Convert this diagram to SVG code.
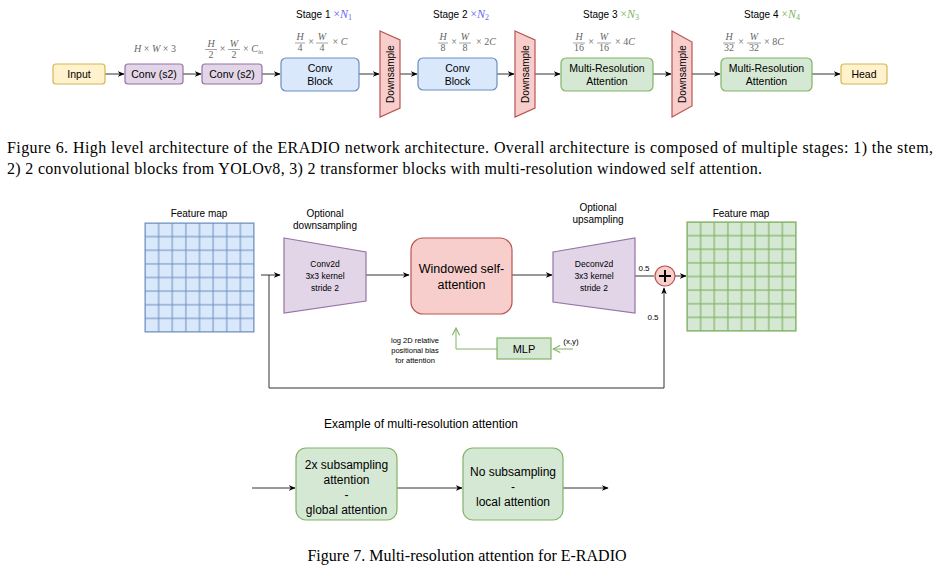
<svg xmlns="http://www.w3.org/2000/svg" width="936" height="578" viewBox="0 0 936 578">
<defs>
<style>
.t{font-family:"Liberation Sans",Arial,sans-serif;fill:#000;text-anchor:middle}
.m{font-family:"Liberation Serif","Times New Roman",serif;fill:#666;font-size:10px;text-anchor:middle}
.mi{font-style:italic}
.cap{font-family:"Liberation Serif","Times New Roman",serif;font-size:16px;fill:#000}
.yel{fill:#fff2cc;stroke:#d6b656;stroke-width:1.2}
.pur{fill:#e1d5e7;stroke:#9673a6;stroke-width:1.2}
.blu{fill:#dae8fc;stroke:#6c8ebf;stroke-width:1.2}
.grn{fill:#d5e8d4;stroke:#82b366;stroke-width:1.2}
.red{fill:#f8cecc;stroke:#b85450;stroke-width:1.2}
.ln{fill:none;stroke:#333;stroke-width:1}
.gln{fill:none;stroke:#82b366;stroke-width:1}
.fb{stroke:#666;stroke-width:0.6}
.sx{font-family:"Liberation Serif","Times New Roman",serif;font-size:12px}
</style>
<marker id="a" viewBox="0 0 10 10" refX="9" refY="5" markerWidth="7" markerHeight="7" markerUnits="userSpaceOnUse" orient="auto"><path d="M0,1 L10,5 L0,9 L3,5 Z" fill="#000"/></marker>
<marker id="ga" viewBox="0 0 10 10" refX="9" refY="5" markerWidth="9" markerHeight="9" markerUnits="userSpaceOnUse" orient="auto"><path d="M1,1 L9,5 L1,9" fill="none" stroke="#82b366" stroke-width="1.2"/></marker>
<pattern id="gb" x="145" y="223" width="13.625" height="13.625" patternUnits="userSpaceOnUse"><rect width="13.625" height="13.625" fill="#dae8fc" stroke="#6c8ebf" stroke-width="1"/></pattern>
<pattern id="gg" x="687" y="222" width="13.625" height="13.625" patternUnits="userSpaceOnUse"><rect width="13.625" height="13.625" fill="#d5e8d4" stroke="#82b366" stroke-width="1.2"/></pattern>
</defs>

<!-- Figure 6 -->
<g id="connectors-top">
<path class="ln" d="M105,74 H124" marker-end="url(#a)"/>
<path class="ln" d="M183,74 H201" marker-end="url(#a)"/>
<path class="ln" d="M262,74 H280" marker-end="url(#a)"/>
<path class="ln" d="M359,74 H379" marker-end="url(#a)"/>
<path class="ln" d="M400,74 H417" marker-end="url(#a)"/>
<path class="ln" d="M497,74 H514" marker-end="url(#a)"/>
<path class="ln" d="M535,74 H560" marker-end="url(#a)"/>
<path class="ln" d="M653,74 H671" marker-end="url(#a)"/>
<path class="ln" d="M692,74 H720" marker-end="url(#a)"/>
<path class="ln" d="M812,74 H840" marker-end="url(#a)"/>
</g>

<g id="input"><rect class="yel" x="53" y="64" width="52" height="20" rx="3"/><text class="t" x="79" y="78" font-size="10.5">Input</text></g>
<g id="conv1"><rect class="pur" x="125" y="64" width="58" height="20" rx="3"/><text class="t" x="154" y="78" font-size="10.5">Conv (s2)</text></g>
<g id="conv2"><rect class="pur" x="202" y="64" width="60" height="20" rx="3"/><text class="t" x="232" y="78" font-size="10.5">Conv (s2)</text></g>
<g id="convblock1"><rect class="blu" x="281" y="58" width="78" height="33" rx="5"/><text class="t" x="320" y="72" font-size="10.5">Conv</text><text class="t" x="320" y="85" font-size="10.5">Block</text></g>
<g id="ds1"><path class="red" d="M380,31 L400,40 L400,108 L380,117 Z"/><text class="t" font-size="10" transform="translate(393.5,74) rotate(-90)">Downsample</text></g>
<g id="convblock2"><rect class="blu" x="418" y="58" width="79" height="32" rx="5"/><text class="t" x="457.5" y="72" font-size="10.5">Conv</text><text class="t" x="457.5" y="85" font-size="10.5">Block</text></g>
<g id="ds2"><path class="red" d="M515,31 L535,40 L535,108 L515,117 Z"/><text class="t" font-size="10" transform="translate(528.5,74) rotate(-90)">Downsample</text></g>
<g id="mra1"><rect class="grn" x="561" y="58" width="92" height="33" rx="5"/><text class="t" x="607" y="72" font-size="10.5">Multi-Resolution</text><text class="t" x="607" y="85" font-size="10.5">Attention</text></g>
<g id="ds3"><path class="red" d="M672,31 L692,42 L692,106 L672,117 Z"/><text class="t" font-size="10" transform="translate(685.5,74) rotate(-90)">Downsample</text></g>
<g id="mra2"><rect class="grn" x="721" y="58" width="91" height="33" rx="5"/><text class="t" x="766.5" y="72" font-size="10.5">Multi-Resolution</text><text class="t" x="766.5" y="85" font-size="10.5">Attention</text></g>
<g id="head"><rect class="yel" x="841" y="64" width="46" height="20" rx="3"/><text class="t" x="864" y="78" font-size="10.5">Head</text></g>

<g id="stage-labels" font-size="10">
<text class="t" x="324" y="18">Stage 1 <tspan class="sx" fill="#6666ee">×<tspan font-style="italic">N</tspan><tspan font-size="8" dy="2">1</tspan></tspan></text>
<text class="t" x="461" y="18">Stage 2 <tspan class="sx" fill="#6666ee">×<tspan font-style="italic">N</tspan><tspan font-size="8" dy="2">2</tspan></tspan></text>
<text class="t" x="611" y="18">Stage 3 <tspan class="sx" fill="#82b366">×<tspan font-style="italic">N</tspan><tspan font-size="8" dy="2">3</tspan></tspan></text>
<text class="t" x="772" y="18">Stage 4 <tspan class="sx" fill="#82b366">×<tspan font-style="italic">N</tspan><tspan font-size="8" dy="2">4</tspan></tspan></text>
</g>

<g id="shape-labels">
<text class="m" x="155" y="52"><tspan class="mi">H</tspan> × <tspan class="mi">W</tspan> × 3</text>
<!-- H/2 x W/2 x Cin -->
<text class="m mi" x="211" y="47">H</text><path class="fb" d="M205,49.5 H217"/><text class="m" x="211" y="58">2</text>
<text class="m" x="222.5" y="52">×</text>
<text class="m mi" x="234" y="47">W</text><path class="fb" d="M228,49.5 H240"/><text class="m" x="234" y="58">2</text>
<text class="m" x="253" y="52">× <tspan class="mi">C</tspan><tspan class="mi" font-size="6.5" dy="1.5">in</tspan></text>
<!-- H/4 x W/4 x C -->
<text class="m mi" x="300" y="40">H</text><path class="fb" d="M295,43 H305"/><text class="m" x="300" y="51">4</text>
<text class="m" x="311" y="45">×</text>
<text class="m mi" x="322" y="40">W</text><path class="fb" d="M316,43 H328"/><text class="m" x="322" y="51">4</text>
<text class="m" x="340" y="45">× <tspan class="mi">C</tspan></text>
<!-- H/8 x W/8 x 2C -->
<text class="m mi" x="443" y="40">H</text><path class="fb" d="M438,43 H448"/><text class="m" x="443" y="51">8</text>
<text class="m" x="454" y="45">×</text>
<text class="m mi" x="465" y="40">W</text><path class="fb" d="M459,43 H471"/><text class="m" x="465" y="51">8</text>
<text class="m" x="486" y="45">× 2<tspan class="mi">C</tspan></text>
<!-- H/16 x W/16 x 4C -->
<text class="m mi" x="579" y="40">H</text><path class="fb" d="M573,43 H585"/><text class="m" x="579" y="51">16</text>
<text class="m" x="591" y="45">×</text>
<text class="m mi" x="604" y="40">W</text><path class="fb" d="M597,43 H611"/><text class="m" x="604" y="51">16</text>
<text class="m" x="625" y="45">× 4<tspan class="mi">C</tspan></text>
<!-- H/32 x W/32 x 8C -->
<text class="m mi" x="729" y="40">H</text><path class="fb" d="M723,43 H735"/><text class="m" x="729" y="51">32</text>
<text class="m" x="741" y="45">×</text>
<text class="m mi" x="754" y="40">W</text><path class="fb" d="M747,43 H761"/><text class="m" x="754" y="51">32</text>
<text class="m" x="774" y="45">× 8<tspan class="mi">C</tspan></text>
</g>

<g id="caption6">
<text class="cap" x="7" y="153" textLength="926" lengthAdjust="spacing">Figure 6. High level architecture of the ERADIO network architecture. Overall architecture is composed of multiple stages: 1) the stem,</text>
<text class="cap" x="7" y="174" textLength="755" lengthAdjust="spacing">2) 2 convolutional blocks from YOLOv8, 3) 2 transformer blocks with multi-resolution windowed self attention.</text>
</g>

<!-- Figure 7 -->
<g id="connectors-mid">
<path class="ln" d="M261,275 H280" marker-end="url(#a)"/>
<path class="ln" d="M269,275 V388 H664 V288" marker-end="url(#a)"/>
<path class="ln" d="M366,275 H409" marker-end="url(#a)"/>
<path class="ln" d="M512,275 H552" marker-end="url(#a)"/>
<path class="ln" d="M635,276 H654"/>
<path class="ln" d="M675,276 H686" marker-end="url(#a)"/>
<path class="gln" d="M573,349 H553" marker-end="url(#ga)"/>
<path class="gln" d="M497,349 H456 V328" marker-end="url(#ga)"/>
<path class="ln" d="M252,488 H295" marker-end="url(#a)"/>
<path class="ln" d="M397,488 H462" marker-end="url(#a)"/>
<path class="ln" d="M563,488 H608" marker-end="url(#a)"/>
</g>

<g id="featuremap-in">
<text class="t" x="199" y="217" font-size="10">Feature map</text>
<rect x="145" y="223" width="109" height="109" fill="url(#gb)" stroke="#6c8ebf" stroke-width="1"/>
</g>
<g id="conv2d">
<text class="t" x="325" y="217" font-size="10">Optional</text>
<text class="t" x="325" y="229" font-size="10">downsampling</text>
<path class="pur" d="M284,238 L366,252 L366,301 L284,313 Z"/>
<text class="t" x="325" y="267" font-size="8.5">Conv2d</text>
<text class="t" x="325" y="279" font-size="8.5">3x3 kernel</text>
<text class="t" x="325" y="291" font-size="8.5">stride 2</text>
</g>
<g id="wsa">
<rect class="red" x="411" y="238" width="101" height="76" rx="12"/>
<text class="t" x="461.5" y="273" font-size="12.5">Windowed self-</text>
<text class="t" x="461.5" y="289" font-size="12.5">attention</text>
</g>
<g id="deconv2d">
<text class="t" x="598" y="211" font-size="10">Optional</text>
<text class="t" x="598" y="223" font-size="10">upsampling</text>
<path class="pur" d="M553,252 L635,238 L635,313 L553,302 Z"/>
<text class="t" x="594" y="267" font-size="8.5">Deconv2d</text>
<text class="t" x="594" y="279" font-size="8.5">3x3 kernel</text>
<text class="t" x="594" y="291" font-size="8.5">stride 2</text>
</g>
<g id="sum">
<circle class="red" cx="665" cy="276" r="10"/>
<path d="M659,276 H671 M665,270 V282" stroke="#000" stroke-width="2"/>
<text class="t" x="644" y="271" font-size="8">0.5</text>
<text class="t" x="653" y="320" font-size="8">0.5</text>
</g>
<g id="featuremap-out">
<text class="t" x="741" y="217" font-size="10">Feature map</text>
<rect x="687" y="222" width="109" height="109" fill="url(#gg)" stroke="#82b366" stroke-width="1.2"/>
</g>
<g id="mlp">
<rect class="grn" x="497" y="338" width="54" height="21"/>
<text class="t" x="524" y="353" font-size="11">MLP</text>
<text class="t" x="571" y="344" font-size="8">(x,y)</text>
<text class="t" x="415" y="343" font-size="7.5">log 2D relative</text>
<text class="t" x="415" y="353" font-size="7.5">positional bias</text>
<text class="t" x="415" y="363" font-size="7.5">for attention</text>
</g>

<text class="t" x="421" y="428" font-size="12">Example of multi-resolution attention</text>
<g id="sub2x">
<rect class="grn" x="296" y="448" width="101" height="72" rx="10"/>
<text class="t" x="346.5" y="469" font-size="12">2x subsampling</text>
<text class="t" x="346.5" y="484" font-size="12">attention</text>
<text class="t" x="346.5" y="499" font-size="12">-</text>
<text class="t" x="346.5" y="514" font-size="12">global attention</text>
</g>
<g id="nosub">
<rect class="grn" x="463" y="448" width="100" height="72" rx="10"/>
<text class="t" x="513" y="476" font-size="12">No subsampling</text>
<text class="t" x="513" y="491" font-size="12">-</text>
<text class="t" x="513" y="506" font-size="12">local attention</text>
</g>

<g id="caption7">
<text class="cap" x="467" y="561" style="text-anchor:middle">Figure 7. Multi-resolution attention for E-RADIO</text>
</g>
</svg>
